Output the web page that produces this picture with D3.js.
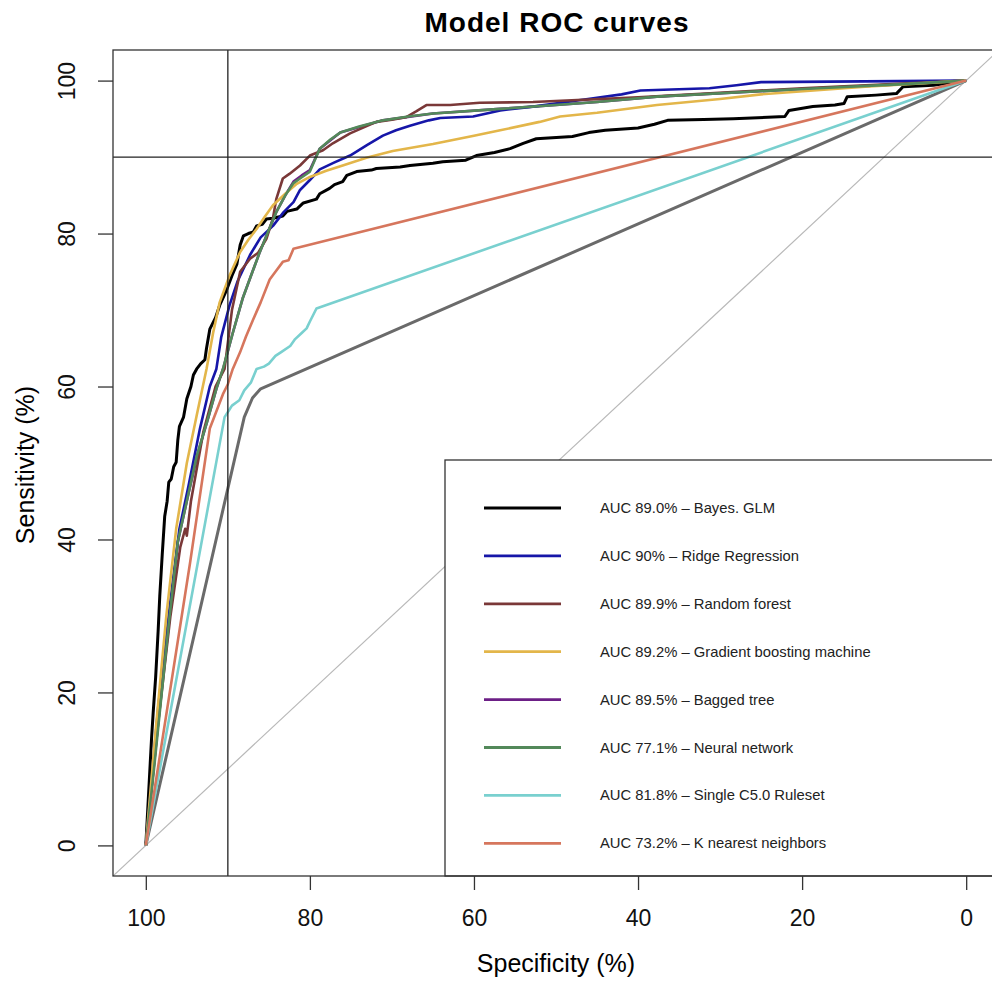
<!DOCTYPE html>
<html>
<head>
<meta charset="utf-8">
<script src="https://cdn.jsdelivr.net/npm/d3@7"></script>
<style>
  body { margin: 0; background: #fff; }
  svg { font-family: "Liberation Sans", Arial, sans-serif; }
</style>
</head>
<body>
<div id="my_dataviz"></div>
<script>
// ROC curves, points are [specificity, sensitivity] in %
var bayesGlm = [[100,0],[99.6,8],[99.3,14],[99.1,17.4],[98.8,22],[98.5,28],[98.3,32.6],[98.0,38],[97.7,43],[97.4,45],[97.2,47.5],[96.9,47.9],[96.6,49.5],[96.3,50.1],[96.1,53],[95.9,54.8],[95.4,56],[95.0,58.4],[94.5,60],[94.2,61.5],[93.8,62.3],[93.3,63],[92.8,63.5],[92.6,65],[92.2,67.5],[91.5,69],[91,70.6],[90.2,72.5],[89.5,74.5],[88.9,76],[88.5,78.5],[88.1,79.7],[87.5,80],[86.9,80.2],[86.5,81],[85.8,81.2],[85.3,81.9],[84.5,82],[83.3,82.3],[82.8,82.9],[81.6,83.2],[80.8,84],[79.2,84.5],[78.8,85.2],[77.6,85.9],[77,86.4],[76,86.8],[75.5,87.6],[74.3,88.1],[72.5,88.3],[71.9,88.5],[69,88.7],[67.8,88.9],[65,89.2],[63.8,89.4],[61,89.6],[59.7,90.2],[57.5,90.6],[55.6,91.1],[54,91.8],[52.4,92.4],[48,92.7],[46,93.2],[44,93.5],[40,93.8],[38,94.3],[36.4,94.8],[32,94.9],[28.4,95.0],[22.1,95.3],[21.6,96.1],[18.7,96.6],[16,96.8],[14.9,97.0],[14.5,97.9],[11,98.1],[8.5,98.3],[7.7,99.2],[4,99.4],[0,100]];
var ridge = [[100,0],[98.5,18],[97,32],[95.9,41.4],[94.8,47],[93.4,54.5],[92.2,60],[91.4,62.3],[90.8,66.5],[89.8,70.6],[88.8,73.8],[87.3,77.2],[86,79.5],[84.5,81],[83.2,82.8],[82,84.1],[81.2,85.7],[80,87],[78.8,88.4],[77,89.3],[75.1,90.2],[73,91.6],[71.1,92.8],[69.5,93.5],[67.8,94.1],[65.5,94.8],[64.1,95.1],[60.1,95.3],[56.8,96.1],[52.8,96.6],[46.1,97.6],[42,98.2],[39.7,98.7],[31.3,99],[28,99.4],[25,99.8],[0,100]];
var randomForest = [[100,0],[98.5,16],[97,30],[95.8,39],[95.2,41.4],[95,40.5],[94.5,45],[93,54],[91.5,60],[90.4,62.3],[89.5,70],[88.5,75],[87.3,76.7],[86.3,77.5],[85.3,79.3],[84.5,82],[84.1,84.5],[83.3,87.2],[82.5,87.8],[81.2,88.9],[80,90.2],[78.4,90.9],[77.2,91.8],[75.1,93.1],[71.9,94.6],[70,94.9],[68.3,95.2],[67,96],[65.8,96.8],[62.9,96.8],[59.3,97.1],[52.8,97.2],[40,97.8],[20,99],[0,100]];
var gbm = [[100,0],[98.8,15],[97.5,30],[96.3,41.4],[95,50],[93.8,56.2],[92.6,62.3],[91.8,67],[91,71],[89.8,74.5],[88.5,77.6],[87.5,79.2],[86.5,80.6],[85.5,82.2],[84.5,83.7],[83,85.2],[81.6,86.5],[80,87.4],[78,88.2],[76,88.9],[73.1,89.9],[69.9,90.8],[65,91.7],[60,92.8],[56.8,93.5],[52,94.6],[49.5,95.3],[45,95.8],[37.7,96.8],[30,97.6],[25,98.2],[12.3,99.2],[0,100]];
var baggedTree = [[100,0],[98.4,17],[97.2,29],[96.1,39.7],[94.8,46],[93.6,51.5],[92.5,55.5],[91.4,59.7],[90.5,62.6],[89.4,67],[88.2,71.5],[87,75],[86.1,77.6],[85,80.5],[84.1,82.8],[83,85],[82,86.8],[81,87.6],[80,88.3],[78.8,91.1],[76.3,93.2],[71.1,94.8],[65,95.7],[56.8,96.3],[45,97.2],[37.7,97.9],[20,98.9],[8.2,99.5],[0,100]];
var neuralNet = [[100,0],[99,10],[98.3,17.4],[97.2,29],[96.1,39.7],[94.8,46],[93.8,50.9],[92.5,55.5],[91.4,59.7],[90.6,62.3],[89.4,67],[88.2,71.5],[87,75],[86.1,77.6],[85,80.5],[84.1,82.8],[83,85],[82,86.6],[81.2,87.2],[80,88.1],[78.8,91.1],[77.5,92.3],[76.3,93.2],[74,94],[71.1,94.8],[68,95.3],[65,95.7],[56.8,96.3],[45,97.2],[37.7,97.9],[20,98.9],[8.2,99.5],[0,100]];
var c50 = [[100,0],[90.4,56],[89.8,57],[89.5,57.5],[88.6,58.2],[88,59.5],[87.2,60.5],[86.5,62.3],[85.6,62.6],[85,63],[84.2,64],[83.5,64.5],[82.4,65.3],[81.8,66.2],[81,67],[80.4,67.6],[80,68.5],[79.2,70.2],[0,100]];
var knn = [[100,0],[94.6,37],[92.2,54.5],[90.6,59],[90,60.3],[89.4,62.3],[88.5,64.5],[87.8,66.5],[86.9,68.8],[86,71],[84.9,74],[84.2,75],[83.3,76.3],[82.6,76.5],[82,78],[0,100]];
var extraGray = [[100,0],[88,56],[87,58.5],[86,59.7],[0,100]];

// z = drawing order (lower is drawn first)
var series = [
  { name: "gray", pts: extraGray, color: "#6a6a6a", w: 3, legend: false, z: 0 },
  { name: "AUC 89.0% \u2013 Bayes. GLM", pts: bayesGlm, color: "#000000", w: 3, legend: true, z: 2 },
  { name: "AUC 90% \u2013 Ridge Regression", pts: ridge, color: "#1616a8", w: 2.6, legend: true, z: 3 },
  { name: "AUC 89.9% \u2013 Random forest", pts: randomForest, color: "#7a3838", w: 2.6, legend: true, z: 4 },
  { name: "AUC 89.2% \u2013 Gradient boosting machine", pts: gbm, color: "#e3b64a", w: 2.6, legend: true, z: 5 },
  { name: "AUC 89.5% \u2013 Bagged tree", pts: baggedTree, color: "#6c1f86", w: 2.6, legend: true, z: 1 },
  { name: "AUC 77.1% \u2013 Neural network", pts: neuralNet, color: "#53895a", w: 2.6, legend: true, z: 6 },
  { name: "AUC 81.8% \u2013 Single C5.0 Ruleset", pts: c50, color: "#79d0cf", w: 2.6, legend: true, z: 7 },
  { name: "AUC 73.2% \u2013 K nearest neighbors", pts: knn, color: "#d6765d", w: 2.6, legend: true, z: 8 }
];

var xTicks = [100, 80, 60, 40, 20, 0];
var yTicks = [0, 20, 40, 60, 80, 100];

var W = 992, H = 981;
var margin = { top: 50, right: 999, bottom: 876, left: 113 };

var svg = d3.select("#my_dataviz")
  .append("svg")
  .attr("width", W)
  .attr("height", H);

var x = d3.scaleLinear().domain([104, -4]).range([margin.left, margin.right]);
var y = d3.scaleLinear().domain([-4, 104]).range([margin.bottom, margin.top]);

svg.append("clipPath").attr("id", "plotclip")
  .append("rect")
  .attr("x", margin.left).attr("y", margin.top)
  .attr("width", margin.right - margin.left).attr("height", margin.bottom - margin.top);

var plot = svg.append("g").attr("clip-path", "url(#plotclip)");

// diagonal
plot.append("line")
  .attr("x1", x(104)).attr("y1", y(-4))
  .attr("x2", x(-4)).attr("y2", y(104))
  .attr("stroke", "#b8b8b8").attr("stroke-width", 1.2);

// curves
var line = d3.line()
  .x(function (d) { return x(d[0]); })
  .y(function (d) { return y(d[1]); });

var drawOrder = series.slice().sort(function (a, b) { return a.z - b.z; });
plot.selectAll("path.roc")
  .data(drawOrder)
  .enter()
  .append("path")
  .attr("class", "roc")
  .attr("d", function (d) { return line(d.pts); })
  .attr("fill", "none")
  .attr("stroke", function (d) { return d.color; })
  .attr("stroke-width", function (d) { return d.w; })
  .attr("stroke-linejoin", "round");

// 90% reference lines
plot.append("line")
  .attr("x1", x(90)).attr("x2", x(90))
  .attr("y1", margin.top).attr("y2", margin.bottom)
  .attr("stroke", "#222").attr("stroke-width", 1.3);
plot.append("line")
  .attr("x1", margin.left).attr("x2", margin.right)
  .attr("y1", y(90)).attr("y2", y(90))
  .attr("stroke", "#222").attr("stroke-width", 1.3);

// legend
var legendItems = series.filter(function (d) { return d.legend; });
var lg = svg.append("g");
lg.append("rect")
  .attr("x", 445).attr("y", 460)
  .attr("width", 600).attr("height", margin.bottom - 460)
  .attr("fill", "#fff")
  .attr("stroke", "#333").attr("stroke-width", 1.3);
var rows = lg.selectAll("g.row")
  .data(legendItems)
  .enter()
  .append("g")
  .attr("transform", function (d, i) { return "translate(0," + (508 + i * 47.9) + ")"; });
rows.append("line")
  .attr("x1", 484).attr("x2", 561)
  .attr("stroke", function (d) { return d.color; })
  .attr("stroke-width", 2.8);
rows.append("text")
  .attr("x", 600).attr("y", 5)
  .attr("font-size", 14.8)
  .attr("fill", "#222")
  .text(function (d) { return d.name; });

// box
svg.append("rect")
  .attr("x", margin.left).attr("y", margin.top)
  .attr("width", margin.right - margin.left).attr("height", margin.bottom - margin.top)
  .attr("fill", "none")
  .attr("stroke", "#333").attr("stroke-width", 1.3);

// x axis
var xAxis = svg.append("g")
  .attr("transform", "translate(0," + margin.bottom + ")")
  .call(d3.axisBottom(x).tickValues(xTicks).tickSize(14).tickPadding(20));
xAxis.select(".domain").remove();
xAxis.selectAll("line").attr("stroke", "#333").attr("stroke-width", 1.3);
xAxis.selectAll("text").attr("font-size", 23).attr("fill", "#111")
  .attr("font-family", "Liberation Sans, Arial, sans-serif");

// y axis
var yAxis = svg.append("g")
  .attr("transform", "translate(" + margin.left + ",0)")
  .call(d3.axisLeft(y).tickValues(yTicks).tickSize(15).tickFormat(d3.format("d")));
yAxis.select(".domain").remove();
yAxis.selectAll("line").attr("stroke", "#333").attr("stroke-width", 1.3);
yAxis.selectAll("text")
  .attr("font-size", 23).attr("fill", "#111")
  .attr("font-family", "Liberation Sans, Arial, sans-serif")
  .attr("x", null).attr("dy", null)
  .attr("text-anchor", "middle")
  .attr("transform", "translate(-38,0) rotate(-90)");

// titles
svg.append("text")
  .attr("x", 557).attr("y", 32)
  .attr("text-anchor", "middle")
  .attr("font-size", 28).attr("font-weight", "bold")
  .attr("letter-spacing", 1)
  .text("Model ROC curves");
svg.append("text")
  .attr("x", 556).attr("y", 972)
  .attr("text-anchor", "middle")
  .attr("font-size", 25)
  .text("Specificity (%)");
svg.append("text")
  .attr("transform", "translate(34,465) rotate(-90)")
  .attr("text-anchor", "middle")
  .attr("font-size", 25)
  .text("Sensitivity (%)");
</script>
</body>
</html>
